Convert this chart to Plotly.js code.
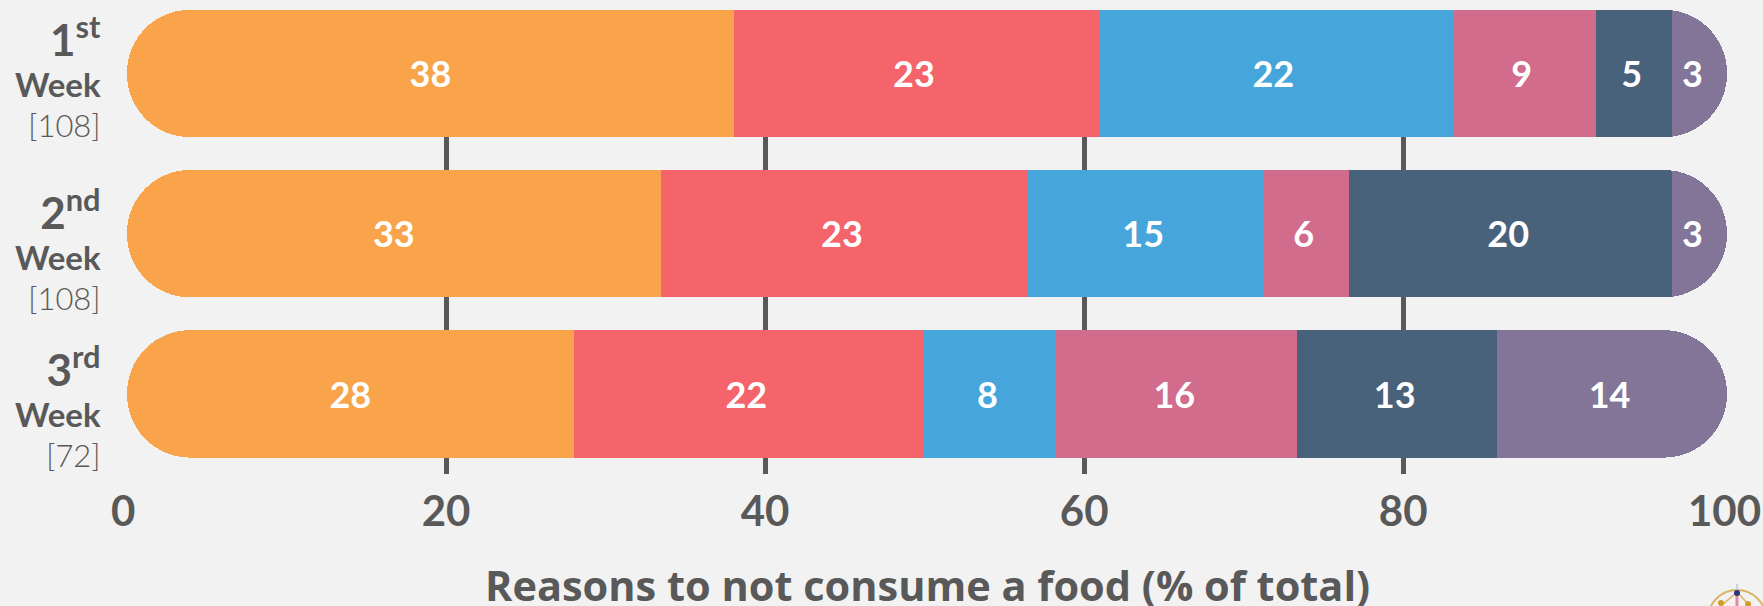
<!DOCTYPE html>
<html><head><meta charset="utf-8">
<script src="https://cdn.plot.ly/plotly-3.0.1.min.js"></script>
<style>html,body{margin:0;padding:0;background:#f2f2f2}</style>
</head><body><div id="chart" style="width:1763px;height:606px"></div>
<script>
const weeks = [0, 1, 2];
const weekLabels = [
  '<b><span style="font-size:44px">1<sup>st</sup></span></b><br><b><span style="font-size:33px">Week</span></b><br><span style="font-weight:300">[108]</span>',
  '<b><span style="font-size:44px">2<sup>nd</sup></span></b><br><b><span style="font-size:33px">Week</span></b><br><span style="font-weight:300">[108]</span>',
  '<b><span style="font-size:44px">3<sup>rd</sup></span></b><br><b><span style="font-size:33px">Week</span></b><br><span style="font-weight:300">[72]</span>'
];
const orange = [38.05, 33.45, 28.0];
const red    = [22.87, 23.04, 21.95];
const blue   = [22.18, 14.73, 8.29];
const pink   = [8.97, 5.38, 15.13];
const navy   = [4.8, 20.27, 12.5];
const purple = [3.43, 3.43, 14.43];
const orangeText = ['38', '33', '28'];
const redText    = ['23', '23', '22'];
const blueText   = ['22', '15', '8'];
const pinkText   = ['9', '6', '16'];
const navyText   = ['5', '20', '13'];
const purpleText = ['3', '3', '14'];
const gridTicks = [20, 40, 60, 80];
const endTicks = [0, 100];
const xTitle = 'Reasons to not consume a food (% of total)';
const colors = ['#F9A34B', '#F5636B', '#46A6DC', '#D16C8C', '#48627B', '#827597'];

const FONT = 'Lato, "Open Sans", sans-serif';
const GREY = '#595959';
const XMAX = 100.3;
const series = [orange, red, blue, pink, navy, purple];
const texts = [orangeText, redText, blueText, pinkText, navyText, purpleText];
const CLEAR = 'rgba(0,0,0,0)';

const traces = [];
// left cap: stack on a reversed overlay axis so the orange end is the rounded one
traces.push({type:'bar', orientation:'h', y:weeks, x:orange.map(v => XMAX - v), xaxis:'x2', marker:{color:CLEAR}, hoverinfo:'skip'});
traces.push({type:'bar', orientation:'h', y:weeks, x:orange, xaxis:'x2', marker:{color:colors[0]}, name:'s1'});
// the rest: stacked on the main axis, with the orange slot left clear
traces.push({type:'bar', orientation:'h', y:weeks, x:orange, marker:{color:CLEAR}, hoverinfo:'skip'});
for (let s = 1; s < series.length; s++) {
  traces.push({type:'bar', orientation:'h', y:weeks, x:series[s], marker:{color:colors[s]}, name:'s'+(s+1)});
}
// value labels, centred in their segments; they sit on the top (reversed) axis
const lx = [], ly = [], lt = [];
weeks.forEach((w, r) => {
  let acc = 0;
  series.forEach((arr, s) => {
    const nudge = s === 0 ? 0 : (arr[r] < 4 ? 0.45 : 0.15);
    lx.push(XMAX - (acc + arr[r] / 2 - nudge));
    ly.push(w + 0.03);
    lt.push(texts[s][r]);
    acc += arr[r];
  });
});
traces.push({type:'scatter', mode:'text', xaxis:'x2', x:lx, y:ly, text:lt, textposition:'middle center',
  textfont:{family:FONT, size:36, color:'#ffffff', weight:700}, hoverinfo:'skip'});

const rowShift = [-3, -15, -12];
const annotations = weeks.map((w, i) => ({
  xref:'paper', x:0, xanchor:'right', xshift:-24, yref:'y', y:w, yanchor:'middle', yshift:rowShift[i],
  text:weekLabels[i], showarrow:false, align:'right', font:{family:FONT, size:31, color:GREY}
})).concat(endTicks.map(v => ({
  xref:'x', x:v, xanchor:'center', xshift:v === 0 ? -4 : 2, yref:'paper', y:0, yanchor:'top', yshift:-9,
  text:'<b>' + v + '</b>', showarrow:false, font:{family:FONT, size:42, color:GREY}
}))).concat([{
  xref:'paper', x:0.5, xanchor:'center', yref:'paper', y:0, yanchor:'middle', yshift:-111,
  text:'<b>' + xTitle + '</b>', showarrow:false, font:{family:'"Open Sans", sans-serif', size:41.5, color:GREY}
}]);

// small emblem cropped by the lower right corner of the frame
const px = v => (v - 127) / 1600, py = v => (474 - v) / 464;
const paperShape = o => Object.assign({xref:'paper', yref:'paper', layer:'above'}, o);
const GOLD = '#DDB264';
const shapes = [
  paperShape({type:'circle', x0:px(1708), x1:px(1766), y0:py(590), y1:py(648), line:{color:GOLD, width:2}}),
  paperShape({type:'line', x0:px(1737), x1:px(1721), y0:py(592), y1:py(606), line:{color:GOLD, width:1.5}}),
  paperShape({type:'line', x0:px(1737), x1:px(1750), y0:py(592), y1:py(606), line:{color:GOLD, width:1.5}}),
  paperShape({type:'line', x0:px(1737), x1:px(1737), y0:py(584), y1:py(592), line:{color:'#C9CFE6', width:2}}),
  paperShape({type:'line', x0:px(1737), x1:px(1737), y0:py(594), y1:py(606), line:{color:'#E58A9A', width:3}}),
  paperShape({type:'circle', x0:px(1734), x1:px(1740), y0:py(590), y1:py(596), fillcolor:'#28357F', line:{width:0}}),
  paperShape({type:'circle', x0:px(1718), x1:px(1724), y0:py(600), y1:py(606), fillcolor:'#D79B28', line:{width:0}}),
  paperShape({type:'circle', x0:px(1745), x1:px(1751), y0:py(601), y1:py(607), fillcolor:'#D79B28', line:{width:0}})
];

const layout = {
  width:1763, height:606, showlegend:false,
  paper_bgcolor:'#f2f2f2', plot_bgcolor:'#f2f2f2',
  margin:{l:127, r:36, t:10, b:132, pad:0},
  barmode:'stack', bargap:0.205, barcornerradius:'50%',
  font:{family:FONT, color:GREY},
  annotations, shapes,
  xaxis:{range:[0, XMAX], tickmode:'array', tickvals:gridTicks, ticktext:gridTicks.map(String), showgrid:true, gridcolor:GREY, gridwidth:5,
    zeroline:false, showline:false, ticks:'outside', ticklen:1, tickcolor:CLEAR,
    tickfont:{family:FONT, size:42, color:GREY, weight:700}},
  xaxis2:{range:[XMAX, 0], overlaying:'x', visible:false, showgrid:false, zeroline:false},
  yaxis:{range:[2.5, -0.396], tickmode:'array', tickvals:weeks, showticklabels:false, showgrid:false, zeroline:false, showline:false, ticks:''}
};
Plotly.newPlot('chart', traces, layout, {displayModeBar:false, staticPlot:true});
</script></body></html>
